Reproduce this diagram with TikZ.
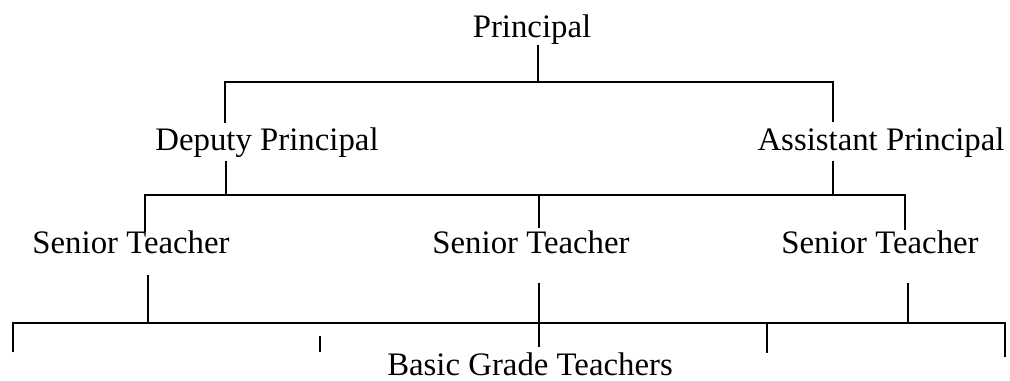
\documentclass[tikz,border=0pt]{standalone}
\usepackage{fontspec}
\setmainfont{Liberation Serif}
\usepackage{tikz}

\begin{document}
\begin{tikzpicture}[x=0.5pt,y=-0.5pt,font=\fontsize{16.4}{19}\selectfont,
  lbl/.style={inner sep=0pt,anchor=base},
  ln/.style={line width=1.25pt}]
\useasboundingbox (0,0) rectangle (1010,380);
% titles
\node[lbl] (prin)   at (532,37)  {Principal};
\node[lbl] (deputy) at (267,150) {Deputy Principal};
\node[lbl] (assist) at (881,150) {Assistant Principal};
\node[lbl] (stA)    at (131,253) {Senior Teacher};
\node[lbl] (stB)    at (531,253) {Senior Teacher};
\node[lbl] (stC)    at (880,253) {Senior Teacher};
\node[lbl] (basic)  at (530,375) {Basic Grade Teachers};
% junction points
\coordinate (p1) at (538,45);  \coordinate (p2) at (538,82);
\coordinate (d1) at (225,82);  \coordinate (d2) at (225,123);
\coordinate (a1) at (833,82);  \coordinate (a2) at (833,122);
\coordinate (d3) at (226,161); \coordinate (d4) at (226,195);
\coordinate (a3) at (833,161); \coordinate (a4) at (833,195);
\coordinate (s1) at (145,195); \coordinate (s2) at (145,232);
\coordinate (m1) at (539,195); \coordinate (m2) at (539,228);
\coordinate (r1) at (905,195); \coordinate (r2) at (905,230);
\coordinate (s3) at (148,275); \coordinate (s4) at (148,323);
\coordinate (m3) at (539,283); \coordinate (m4) at (539,347);
\coordinate (r3) at (908,283); \coordinate (r4) at (908,323);
\coordinate (b1) at (13,352);  \coordinate (b2) at (1005,357);
\coordinate (t1) at (320,336); \coordinate (t2) at (320,352);
\coordinate (t3) at (767,323); \coordinate (t4) at (767,353);
% principal level
\draw[ln] (p1) -- (p2);
\draw[ln] (d2) -- (d1) -- (a1) -- (a2);
% deputy / assistant level
\draw[ln] (d3) -- (d4);
\draw[ln] (a3) -- (a4);
\draw[ln] (s2) -- (s1) -- (r1) -- (r2);
\draw[ln] (m1) -- (m2);
% senior teacher level
\draw[ln] (s3) -- (s4);
\draw[ln] (m3) -- (m4);
\draw[ln] (r3) -- (r4);
\draw[ln] (b1) |- (t3) -| (b2);
\draw[ln] (t3) -- (t4);
\draw[ln] (t1) -- (t2);
\end{tikzpicture}
\end{document}
